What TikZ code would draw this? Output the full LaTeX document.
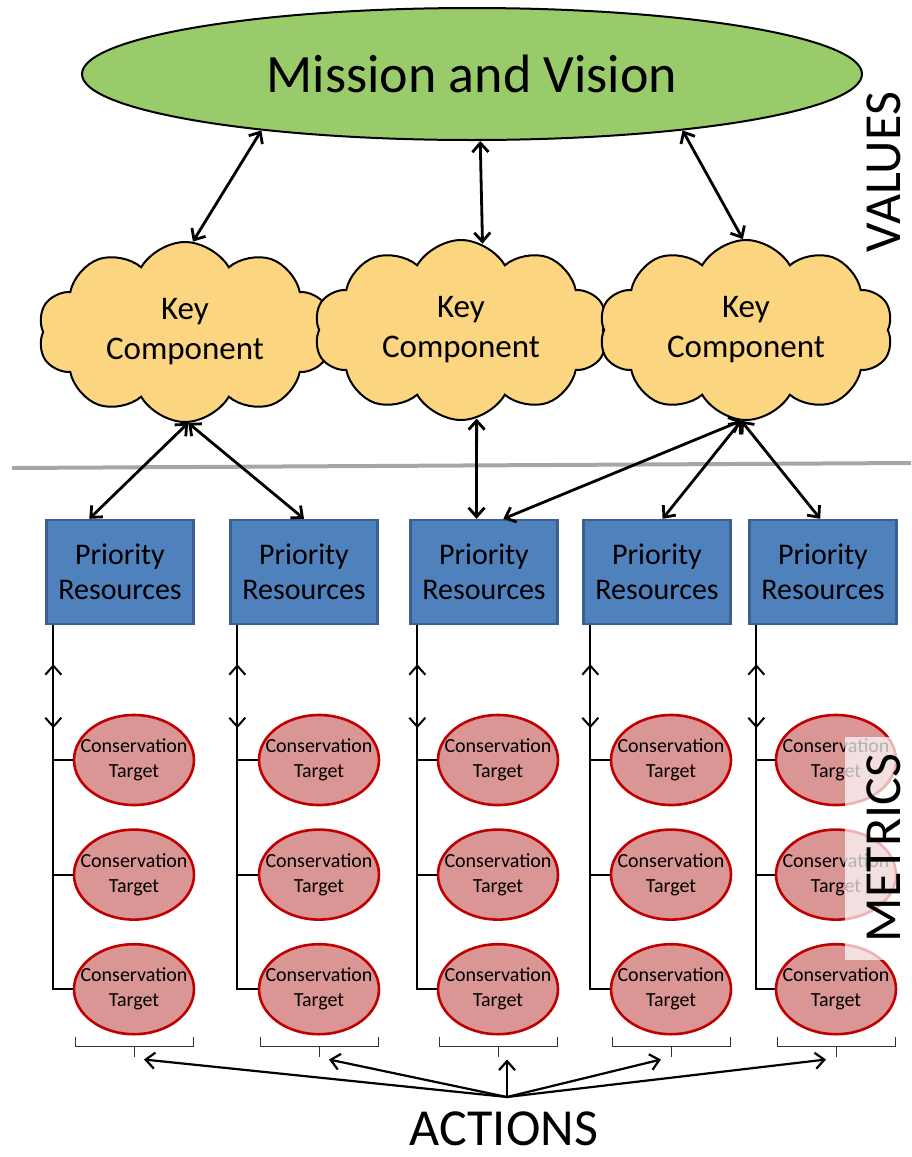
\documentclass[tikz,border=0pt]{standalone}
\usepackage{fontspec}
\setmainfont{Carlito}
\usetikzlibrary{arrows.meta}
\usetikzlibrary{calc}
\usetikzlibrary{positioning}
\usetikzlibrary{shapes.geometric,shapes.symbols}
\definecolor{mvgreen}{HTML}{9ACB6B}
\definecolor{kcyellow}{HTML}{FCD581}
\definecolor{prblue}{HTML}{4F81BD}
\definecolor{prborder}{HTML}{3A6090}
\definecolor{ctpink}{HTML}{D99694}
\definecolor{ctred}{HTML}{C00000}

\begin{document}
\begin{tikzpicture}[x=0.5pt,y=-0.5pt,>={Straight Barb[length=4.5pt,width=8pt]},
mission/.style={ellipse,draw,line width=1pt,fill=mvgreen,minimum width=390pt,
  minimum height=66pt,font=\fontsize{27}{32}\selectfont},
key node/.style={cloud,cloud puffs=10,cloud puff arc=120,aspect=1.6,draw,
  line width=1pt,fill=kcyellow,minimum width=147pt,minimum height=90pt,
  inner sep=0pt,align=center,font=\fontsize{16.5}{20}\selectfont},
res node/.style={rectangle,draw=prborder,line width=1.2pt,fill=prblue,
  minimum width=73.5pt,minimum height=52pt,align=center,
  font=\fontsize{15}{17.5}\selectfont},
target node/.style={ellipse,draw=ctred,line width=1.3pt,fill=ctpink,
  minimum width=60pt,minimum height=45pt,inner sep=0pt},
target text/.style={align=center,font=\fontsize{10}{12.5}\selectfont},
link/.style={<->,line width=1.4pt},
tree/.style={line width=1pt},
brace/.style={line width=0.5pt,black!80},
side label/.style={rotate=90,inner sep=0pt,font=\fontsize{26}{30}\selectfont}]

\useasboundingbox (0,0) rectangle (911,1157);

% values
\node[mission] (mv) at (472,74) {Mission and Vision};
\node[key node] (kc1) at (185,332) {Key\\Component};
\node[key node] (kc2) at (461,330) {Key\\Component};
\node[key node] (kc3) at (746,330) {Key\\Component};

\draw[link] (mv.195) -- (kc1.85);
\draw[link] (mv.277) -- (kc2.76);
\draw[link] (mv.345) -- (kc3.92);

\draw[line width=2pt,black!35] (12,468) -- (911,463);

% metrics
\foreach \i/\bx/\cx/\dx in {1/120/134/10,2/304/319/10,3/484/498/9,4/657/671/-10,5/823/836/-10}{
  \node[res node] (b\i) at (\bx,572) {Priority\\Resources};
  \node[target node,label={[target text]center:Conservation\\Target}] (c\i1) at (\cx,760) {};
  \node[target node,label={[target text]center:Conservation\\Target}] (c\i2) [below=11pt of c\i1] {};
  \node[target node,label={[target text]center:Conservation\\Target}] (c\i3) [below=11pt of c\i2] {};
  \coordinate (l\i) at ($(b\i.south west)+(8,0)$);
  \draw[tree] (l\i) |- (c\i3.west);
  \draw[tree] (c\i1.west) -- (c\i1.west -| l\i);
  \draw[tree] (c\i2.west) -- (c\i2.west -| l\i);
  \draw[tree,<->] ($(l\i)+(0,39)$) -- ++(0,64);
  % brackets
  \draw[brace] ($(c\i3.south)+(-59,1)$) -- ++(0,10) -- ++(118,0) -- ++(0,-10);
  \draw[brace] ($(c\i3.south)+(0,11)$) -- ++(0,10) coordinate (t\i);
  \coordinate (a\i) at ($(t\i)+(\dx,3)$);
}

\draw[link] (kc1.272) -- (b1.120);
\draw[link] (kc1.272) -- (b2.north);
\draw[link] (kc2.280) -- (b3.98);
\draw[link] (kc3.267) -- (b3.70);
\draw[link] (kc3.267) -- (b4.84);
\draw[link] (kc3.267) -- (b5.93);

% actions
\node[inner sep=0pt,font=\fontsize{26}{30}\selectfont] (act) at (504,1129) {ACTIONS};
\coordinate (src) at (507,1097);
\foreach \i in {1,...,5}
  \draw[->,line width=1.1pt] (src) -- (a\i);

\node[side label] (val) at (884,172) {VALUES};
\fill[white,opacity=0.7] (845,737) rectangle (911,960);
\node[side label] (met) at (884,848) {METRICS};
\end{tikzpicture}
\end{document}
